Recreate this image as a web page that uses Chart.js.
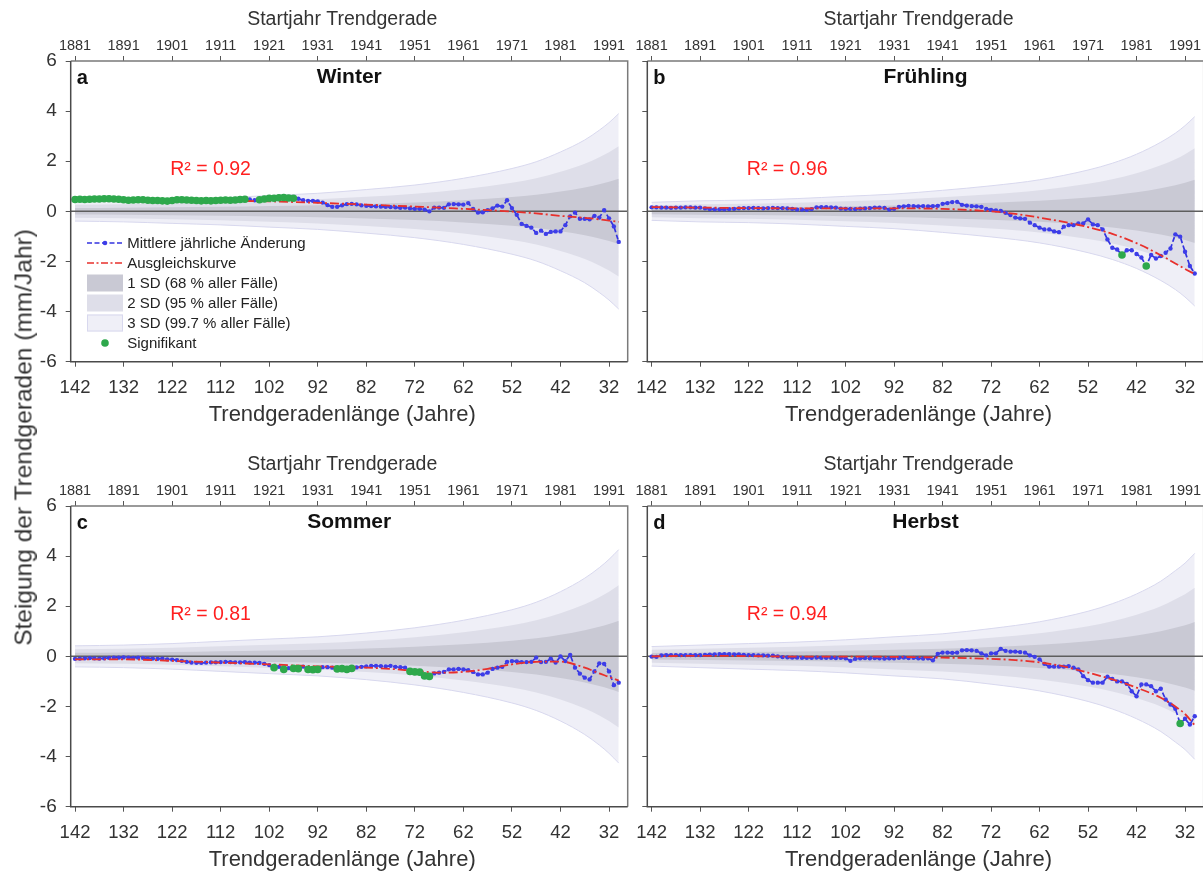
<!DOCTYPE html>
<html lang="de">
<head>
<meta charset="utf-8">
<title>Steigung der Trendgeraden – Jahreszeiten</title>
<script src="https://cdn.jsdelivr.net/npm/chart.js@4.4.1/dist/chart.umd.min.js"></script>
<style>
  html, body { margin: 0; padding: 0; background: #fff; overflow: hidden; }
  #stage { position: relative; width: 1203px; height: 872px; overflow: hidden; background: #fff; }
  #stage canvas { position: absolute; }
  #ytitle {
    position: absolute; left: -278px; top: 424.5px; width: 600px; height: 25px; line-height: 25px;
    text-align: center; white-space: nowrap; color: #333;
    font: 24.5px "Liberation Sans", Arial, Helvetica, sans-serif;
    transform: rotate(-90deg); transform-origin: 50% 50%;
  }
</style>
</head>
<body>
<div id="stage">
  <canvas id="pA" width="640" height="440" style="left:0px;top:0px"></canvas>
  <canvas id="pB" width="620" height="440" style="left:600px;top:0px"></canvas>
  <canvas id="pC" width="640" height="440" style="left:0px;top:445px"></canvas>
  <canvas id="pD" width="620" height="440" style="left:600px;top:445px"></canvas>
  <div id="ytitle">Steigung der Trendgeraden (mm/Jahr)</div>
</div>
<script>
// Trend line length (years) for every computed slope, longest first
const trendLengths = [
  142,141,140,139,138,137,136,135,134,133,
  132,131,130,129,128,127,126,125,124,123,
  122,121,120,119,118,117,116,115,114,113,
  112,111,110,109,108,107,106,105,104,103,
  102,101,100,99,98,97,96,95,94,93,
  92,91,90,89,88,87,86,85,84,83,
  82,81,80,79,78,77,76,75,74,73,
  72,71,70,69,68,67,66,65,64,63,
  62,61,60,59,58,57,56,55,54,53,
  52,51,50,49,48,47,46,45,44,43,
  42,41,40,39,38,37,36,35,34,33,
  32,31,30
];

// Axis tick labels
const lengthTicks = [142,132,122,112,102,92,82,72,62,52,42,32];
const startYearTicks = ['1881','1891','1901','1911','1921','1931','1941','1951','1961','1971','1981','1991'];
const slopeTicks = [-6,-4,-2,0,2,4,6];

// Lengths at which the fitted curve and the SD envelope are given
const fitLengths  = [142,132,122,112,102,92,82,77,72,67,62,57,52,47,42,37,34,32,30];
const bandLengths = [142,132,122,112,102,92,82,72,62,52,47,42,37,34,32,30];

// Winter
const winterSlope = [
  0.47,0.48,0.47,0.48,0.49,0.49,0.50,0.50,0.49,0.48,
  0.46,0.44,0.45,0.46,0.46,0.44,0.43,0.43,0.42,0.41,
  0.43,0.46,0.46,0.45,0.44,0.43,0.42,0.43,0.42,0.43,
  0.44,0.45,0.44,0.45,0.47,0.48,0.47,0.44,0.46,0.49,
  0.52,0.52,0.54,0.55,0.53,0.52,0.50,0.44,0.42,0.42,
  0.40,0.35,0.25,0.18,0.18,0.24,0.29,0.30,0.28,0.24,
  0.22,0.21,0.20,0.19,0.18,0.17,0.16,0.14,0.15,0.12,
  0.10,0.10,0.07,0.00,0.15,0.15,0.14,0.28,0.29,0.28,
  0.27,0.33,0.10,-0.05,-0.04,0.05,0.12,0.23,0.19,0.44,
  0.13,-0.14,-0.50,-0.58,-0.65,-0.86,-0.77,-0.90,-0.82,-0.80,
  -0.80,-0.55,-0.20,-0.05,-0.30,-0.30,-0.32,-0.18,-0.25,0.05,
  -0.28,-0.60,-1.22
];
const winterFit = [0.47,0.45,0.44,0.42,0.40,0.34,0.27,0.23,0.19,0.15,0.10,0.05,-0.01,-0.08,-0.18,-0.26,-0.32,-0.37,-0.42];
const winterSD  = [0.13,0.14,0.16,0.18,0.21,0.24,0.29,0.35,0.44,0.57,0.66,0.79,0.95,1.08,1.18,1.30];
const winterSignificant = [
  142,141,140,139,138,137,136,135,134,133,132,131,130,129,128,127,126,125,
  124,123,122,121,120,119,118,117,116,115,114,113,112,111,110,109,108,107,
  104,103,102,101,100,99,98,97
];
const winterR2 = '0.92';

// Frühling
const springSlope = [
  0.16,0.16,0.15,0.15,0.14,0.15,0.15,0.16,0.16,0.15,
  0.15,0.12,0.09,0.08,0.08,0.08,0.09,0.10,0.12,0.13,
  0.13,0.14,0.13,0.12,0.13,0.14,0.13,0.13,0.12,0.10,
  0.07,0.07,0.06,0.09,0.16,0.17,0.17,0.16,0.15,0.11,
  0.10,0.10,0.09,0.11,0.12,0.13,0.15,0.15,0.14,0.07,
  0.10,0.18,0.20,0.22,0.21,0.20,0.21,0.20,0.21,0.22,
  0.30,0.33,0.37,0.38,0.26,0.23,0.21,0.20,0.18,0.10,
  0.06,0.04,0.02,-0.06,-0.15,-0.25,-0.28,-0.30,-0.45,-0.55,
  -0.65,-0.72,-0.72,-0.80,-0.83,-0.61,-0.55,-0.55,-0.48,-0.48,
  -0.32,-0.52,-0.55,-0.72,-1.12,-1.45,-1.52,-1.74,-1.55,-1.55,
  -1.70,-1.84,-2.18,-1.74,-1.88,-1.78,-1.65,-1.48,-0.92,-1.01,
  -1.61,-2.18,-2.48
];
const springFit = [0.17,0.15,0.13,0.12,0.12,0.12,0.10,0.06,0.00,-0.10,-0.25,-0.42,-0.63,-0.90,-1.27,-1.75,-2.08,-2.30,-2.50];
const springSD  = [0.12,0.14,0.15,0.17,0.20,0.23,0.28,0.34,0.42,0.55,0.64,0.76,0.92,1.04,1.14,1.26];
const springSignificant = [45,40];
const springR2 = '0.96';

// Sommer
const summerSlope = [
  -0.10,-0.09,-0.08,-0.07,-0.08,-0.09,-0.08,-0.06,-0.05,-0.05,
  -0.04,-0.05,-0.06,-0.05,-0.06,-0.08,-0.09,-0.10,-0.09,-0.12,
  -0.13,-0.15,-0.18,-0.22,-0.25,-0.26,-0.26,-0.25,-0.24,-0.24,
  -0.23,-0.22,-0.23,-0.24,-0.24,-0.23,-0.25,-0.25,-0.26,-0.30,
  -0.35,-0.45,-0.42,-0.52,-0.47,-0.48,-0.49,-0.41,-0.52,-0.53,
  -0.52,-0.43,-0.43,-0.45,-0.50,-0.49,-0.52,-0.48,-0.44,-0.42,
  -0.40,-0.38,-0.38,-0.39,-0.40,-0.38,-0.42,-0.43,-0.45,-0.60,
  -0.62,-0.63,-0.78,-0.80,-0.68,-0.65,-0.62,-0.52,-0.52,-0.50,
  -0.52,-0.55,-0.62,-0.72,-0.72,-0.65,-0.50,-0.45,-0.42,-0.22,
  -0.19,-0.20,-0.23,-0.23,-0.22,-0.05,-0.23,-0.22,-0.09,-0.25,
  0.00,-0.19,0.06,-0.45,-0.69,-0.85,-0.92,-0.60,-0.28,-0.30,
  -0.60,-1.15,-1.05
];
const summerFit = [-0.12,-0.12,-0.18,-0.25,-0.32,-0.40,-0.45,-0.50,-0.58,-0.65,-0.62,-0.50,-0.32,-0.22,-0.21,-0.45,-0.68,-0.82,-0.97];
const summerSD  = [0.14,0.15,0.17,0.20,0.23,0.26,0.31,0.38,0.48,0.62,0.72,0.86,1.04,1.18,1.29,1.42];
const summerSignificant = [101,99,97,96,94,93,92,88,87,86,85,73,72,71,70,69];
const summerR2 = '0.81';

// Herbst
const autumnSlope = [
  -0.01,-0.02,0.04,0.05,0.05,0.05,0.05,0.05,0.05,0.05,
  0.05,0.06,0.07,0.08,0.09,0.09,0.09,0.08,0.08,0.06,
  0.05,0.05,0.04,0.04,0.03,0.03,0.00,-0.03,-0.04,-0.05,
  -0.05,-0.06,-0.06,-0.06,-0.05,-0.06,-0.06,-0.06,-0.07,-0.06,
  -0.08,-0.18,-0.10,-0.08,-0.07,-0.08,-0.07,-0.08,-0.09,-0.08,
  -0.08,-0.06,-0.05,-0.07,-0.06,-0.08,-0.09,-0.08,-0.16,0.10,
  0.15,0.15,0.14,0.15,0.24,0.25,0.24,0.22,0.12,0.04,
  0.12,0.12,0.30,0.22,0.19,0.19,0.17,0.15,0.04,-0.02,
  -0.12,-0.30,-0.41,-0.41,-0.41,-0.41,-0.39,-0.45,-0.52,-0.79,
  -0.95,-1.05,-1.05,-1.05,-0.81,-0.90,-1.00,-1.00,-1.10,-1.39,
  -1.59,-1.12,-1.12,-1.19,-1.39,-1.29,-1.72,-1.92,-2.09,-2.68,
  -2.49,-2.72,-2.39
];
const autumnFit = [0.00,0.02,0.01,-0.01,-0.01,-0.02,-0.05,-0.07,-0.10,-0.15,-0.24,-0.40,-0.65,-0.92,-1.25,-1.65,-2.00,-2.30,-2.75];
const autumnSD  = [0.13,0.15,0.17,0.19,0.22,0.26,0.30,0.37,0.46,0.60,0.70,0.83,1.00,1.14,1.24,1.37];
const autumnSignificant = [33];
const autumnR2 = '0.94';

const legendLabels = [
  'Mittlere jährliche Änderung',
  'Ausgleichskurve',
  '1 SD (68 % aller Fälle)',
  '2 SD (95 % aller Fälle)',
  '3 SD (99.7 % aller Fälle)',
  'Signifikant'
];
const topAxisTitle = 'Startjahr Trendgerade';
const bottomAxisTitle = 'Trendgeradenlänge (Jahre)';

// ---- styling ----
const FONT = '"Liberation Sans", Arial, Helvetica, sans-serif';
const TEXT = '#333333';
const BLUE = '#3333e0';
const BLUE_PT = '#3d3de8';
const RED = '#e8302c';
const GREEN = '#2ea84c';
const SD3 = '#efeff7', SD2 = '#dedee9', SD1 = '#c9c9d4', SD_EDGE = '#d8d8ee';
const X_MIN = 28.15, X_MAX = 142.89;

const pairs = (xs, ys) => xs.map((x, i) => ({ x: x, y: ys[i] }));
const envelope = (sd, k) => bandLengths.map((L, i) => ({ x: L, y: k * sd[i] }));

function decorations(p) {
  return {
    id: 'decorations',
    beforeDatasetDraw(chart, args) {
      if (!chart.data.datasets[args.index].isSlope) return;
      const a = chart.chartArea, y0 = chart.scales.y.getPixelForValue(0);
      const ctx = chart.ctx;
      ctx.save();
      ctx.strokeStyle = '#5e5e5e'; ctx.lineWidth = 1.5; ctx.setLineDash([]);
      ctx.beginPath(); ctx.moveTo(a.left, y0); ctx.lineTo(a.right, y0); ctx.stroke();
      ctx.restore();
    },
    afterDraw(chart) {
      const a = chart.chartArea, ctx = chart.ctx;
      const cx = (a.left + a.right) / 2;
      ctx.save();
      // frame
      ctx.setLineDash([]);
      ctx.lineWidth = 1.5;
      ctx.strokeStyle = '#7a7a7a';
      ctx.beginPath();
      ctx.moveTo(a.left, a.top); ctx.lineTo(a.right, a.top); ctx.lineTo(a.right, a.bottom);
      ctx.stroke();
      ctx.strokeStyle = '#4a4a4a';
      ctx.beginPath();
      ctx.moveTo(a.left, a.top); ctx.lineTo(a.left, a.bottom); ctx.lineTo(a.right, a.bottom);
      ctx.stroke();
      // axis titles
      ctx.fillStyle = TEXT;
      ctx.textAlign = 'center';
      ctx.textBaseline = 'middle';
      ctx.font = '19.5px ' + FONT;
      ctx.fillText(topAxisTitle, cx - 7, a.top - 41);
      ctx.font = '22px ' + FONT;
      ctx.fillText(bottomAxisTitle, cx - 7, a.bottom + 53.5);
      // panel letter and season title
      ctx.fillStyle = '#111';
      ctx.font = 'bold 20px ' + FONT;
      ctx.textAlign = 'left';
      ctx.fillText(p.letter, a.left + 6, a.top + 17);
      ctx.font = 'bold 21px ' + FONT;
      ctx.textAlign = 'center';
      ctx.fillText(p.title, cx, a.top + 16);
      // coefficient of determination
      ctx.font = '19.5px ' + FONT;
      ctx.fillStyle = '#ff1f1f';
      ctx.textAlign = 'left';
      ctx.fillText('R\u00B2 = ' + p.r2, a.left + 99.5, a.top + 109);
      if (p.legend) drawLegend(ctx, a);
      ctx.restore();
    }
  };
}

function drawLegend(ctx, a) {
  const x0 = a.left + 16.3, x1 = a.left + 52.3, tx = a.left + 56.5, xm = (x0 + x1) / 2;
  const rows = [182, 202, 222, 242, 262, 282].map(d => a.top + d);
  ctx.save();
  // line samples
  ctx.lineWidth = 1.7;
  ctx.strokeStyle = BLUE; ctx.setLineDash([5, 2.5]);
  ctx.beginPath(); ctx.moveTo(x0, rows[0]); ctx.lineTo(x1, rows[0]); ctx.stroke();
  ctx.setLineDash([]);
  ctx.fillStyle = BLUE_PT;
  ctx.beginPath(); ctx.arc(xm, rows[0], 2.3, 0, Math.PI * 2); ctx.fill();
  ctx.strokeStyle = RED; ctx.setLineDash([7, 2.5, 2, 2.5]);
  ctx.beginPath(); ctx.moveTo(x0, rows[1]); ctx.lineTo(x1, rows[1]); ctx.stroke();
  ctx.setLineDash([]);
  // band swatches
  [SD1, SD2, SD3].forEach((c, i) => {
    ctx.fillStyle = c;
    ctx.fillRect(x0, rows[2 + i] - 8.5, x1 - x0, 17);
  });
  ctx.strokeStyle = SD_EDGE; ctx.lineWidth = 1;
  ctx.strokeRect(x0 + 0.5, rows[4] - 8, x1 - x0 - 1, 16);
  // significance marker
  ctx.fillStyle = GREEN;
  ctx.beginPath(); ctx.arc(xm, rows[5], 3.8, 0, Math.PI * 2); ctx.fill();
  // labels
  ctx.font = '15px ' + FONT;
  ctx.fillStyle = '#222';
  ctx.textAlign = 'left'; ctx.textBaseline = 'middle';
  legendLabels.forEach((t, i) => ctx.fillText(t, tx, rows[i] + 0.5));
  ctx.restore();
}

function makePanel(p) {
  const sigPoints = p.sig.map(L => ({ x: L, y: p.slope[trendLengths.indexOf(L)] }));
  const band = (label, data, fill, color, edge, order) => ({
    label: label, data: data, fill: fill, backgroundColor: color,
    borderColor: edge || 'rgba(0,0,0,0)', borderWidth: edge ? 1 : 0.01,
    pointRadius: 0, cubicInterpolationMode: 'monotone', order: order
  });
  const datasets = [
    band('3 SD', envelope(p.sd, 3), '+1', SD3, SD_EDGE, 10),
    band('3 SD', envelope(p.sd, -3), false, SD3, SD_EDGE, 10),
    band('2 SD', envelope(p.sd, 2), '+1', SD2, null, 9),
    band('2 SD', envelope(p.sd, -2), false, SD2, null, 9),
    band('1 SD', envelope(p.sd, 1), '+1', SD1, null, 8),
    band('1 SD', envelope(p.sd, -1), false, SD1, null, 8),
    {
      label: 'Ausgleichskurve', data: pairs(fitLengths, p.fit), fill: false,
      borderColor: RED, borderWidth: 1.8, borderDash: [9, 3, 2, 3],
      pointRadius: 0, cubicInterpolationMode: 'monotone', order: 2
    },
    {
      label: 'Mittlere jährliche Änderung', isSlope: true, data: pairs(trendLengths, p.slope), fill: false,
      borderColor: BLUE, borderWidth: 1.7, borderDash: [5, 2.5],
      pointRadius: 2.2, pointBackgroundColor: BLUE_PT, pointBorderWidth: 0, order: 3
    },
    {
      label: 'Signifikant', data: sigPoints, showLine: false, fill: false,
      pointRadius: 3.8, pointBackgroundColor: GREEN, pointBorderWidth: 0, order: 1
    }
  ];

  const tickGrid = { display: true, drawOnChartArea: false, drawTicks: true, tickLength: 5, color: '#555', lineWidth: 1 };

  new Chart(document.getElementById(p.canvas), {
    type: 'line',
    data: { datasets: datasets },
    plugins: [decorations(p)],
    options: {
      responsive: false, animation: false, devicePixelRatio: 1, events: [],
      layout: { padding: { left: 0, top: 0, right: p.padRight, bottom: 0 } },
      plugins: { legend: { display: false }, tooltip: { enabled: false }, filler: { drawTime: 'beforeDatasetsDraw' } },
      scales: {
        x: {
          type: 'linear', position: 'bottom', reverse: true, min: X_MIN, max: X_MAX,
          afterBuildTicks: s => { s.ticks = lengthTicks.map(v => ({ value: v })); },
          afterFit: s => { s.height = 78.3; },
          ticks: { font: { family: FONT, size: 18.5 }, color: TEXT, padding: 10, maxRotation: 0, autoSkip: false,
                   callback: v => String(v) },
          grid: tickGrid, border: { display: false },
          title: { display: false }
        },
        xTop: {
          type: 'linear', position: 'top', reverse: true, min: X_MIN, max: X_MAX,
          afterBuildTicks: s => { s.ticks = lengthTicks.map(v => ({ value: v })); },
          afterFit: s => { s.height = 61; },
          ticks: { font: { family: FONT, size: 14.5 }, color: TEXT, padding: 1.5, maxRotation: 0, autoSkip: false,
                   callback: v => startYearTicks[lengthTicks.indexOf(v)] },
          grid: tickGrid, border: { display: false },
          title: { display: false }
        },
        y: {
          type: 'linear', position: 'left', min: -6, max: 6,
          afterBuildTicks: s => { s.ticks = slopeTicks.map(v => ({ value: v })); },
          afterFit: s => { s.width = p.yAxisWidth; },
          ticks: { display: p.yLabels, font: { family: FONT, size: 19 }, color: TEXT, padding: 9,
                   callback: v => String(v) },
          grid: tickGrid, border: { display: false }
        }
      }
    }
  });
}

const panels = [
  { canvas: 'pA', letter: 'a', title: 'Winter',   slope: winterSlope, fit: winterFit, sd: winterSD, sig: winterSignificant, r2: winterR2, yLabels: true,  yAxisWidth: 70.7, padRight: 12.3, legend: true },
  { canvas: 'pB', letter: 'b', title: 'Frühling', slope: springSlope, fit: springFit, sd: springSD, sig: springSignificant, r2: springR2, yLabels: false, yAxisWidth: 47.3, padRight: 16.3, legend: false },
  { canvas: 'pC', letter: 'c', title: 'Sommer',   slope: summerSlope, fit: summerFit, sd: summerSD, sig: summerSignificant, r2: summerR2, yLabels: true,  yAxisWidth: 70.7, padRight: 12.3, legend: false },
  { canvas: 'pD', letter: 'd', title: 'Herbst',   slope: autumnSlope, fit: autumnFit, sd: autumnSD, sig: autumnSignificant, r2: autumnR2, yLabels: false, yAxisWidth: 47.3, padRight: 16.3, legend: false }
];
panels.forEach(makePanel);
</script>
</body>
</html>
